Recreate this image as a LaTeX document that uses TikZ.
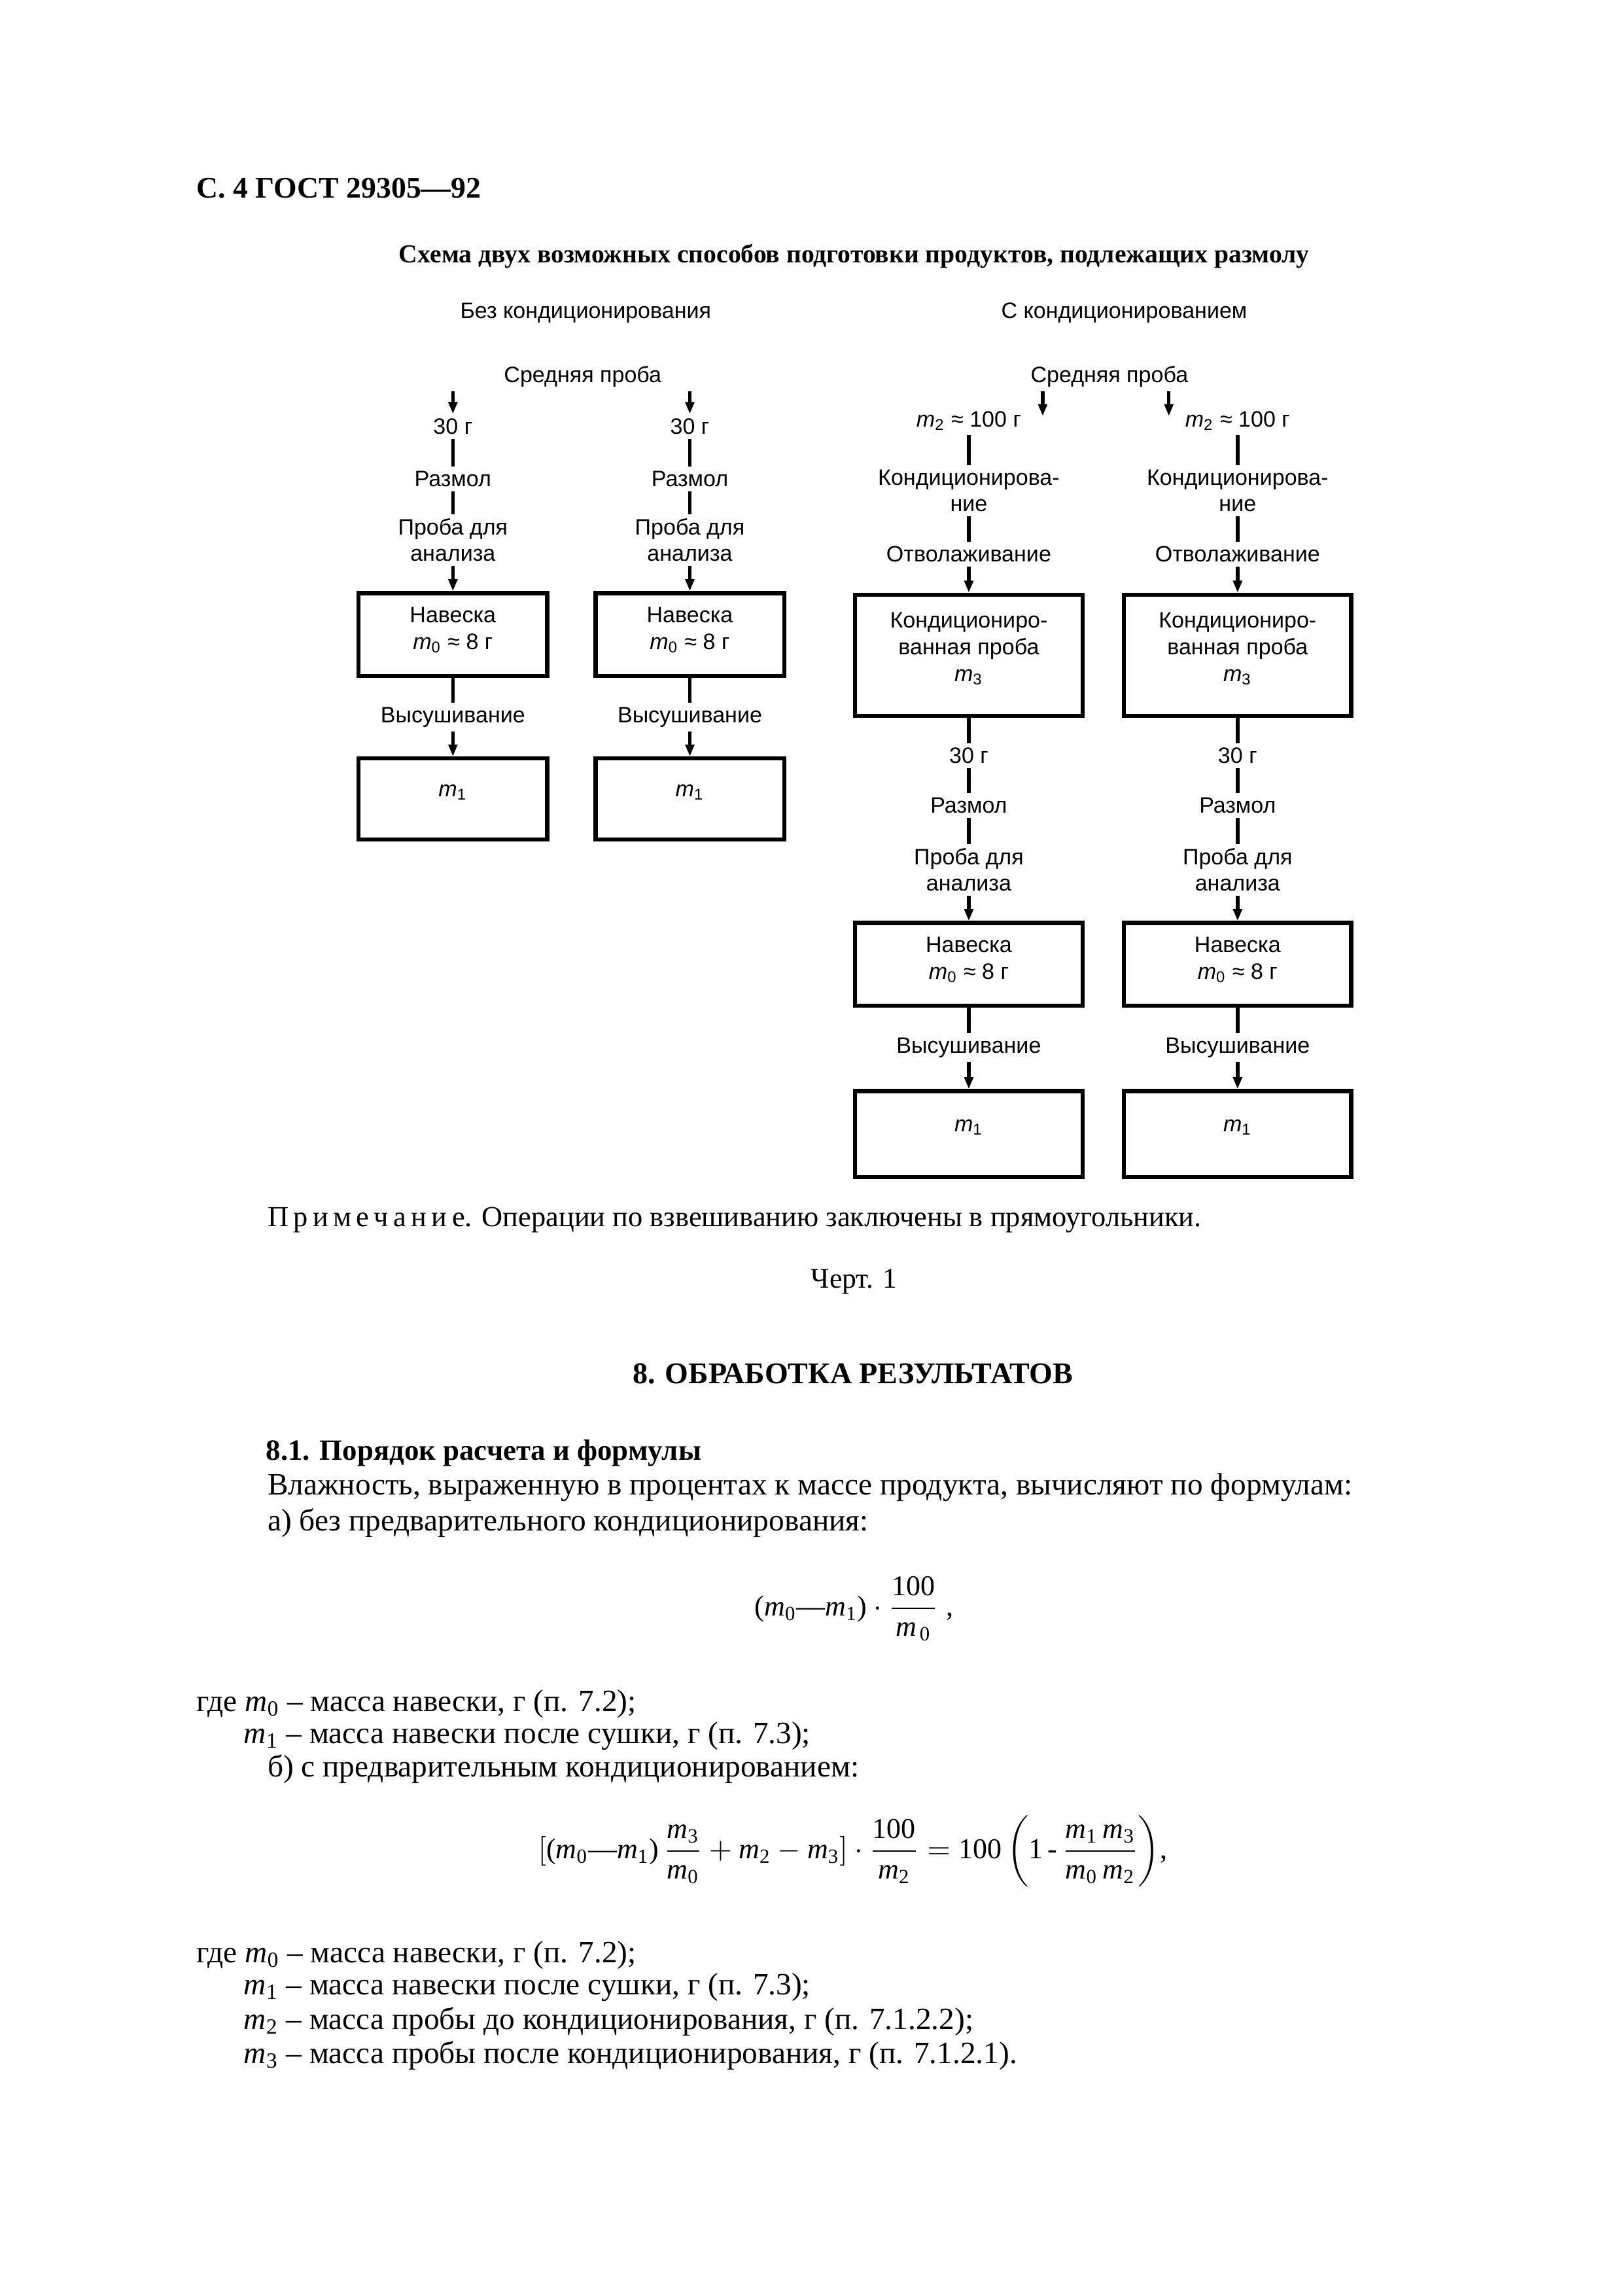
\documentclass[tikz,border=0pt]{standalone}
\usepackage{amsmath}
\usepackage{fontspec}
\setmainfont{Liberation Serif}
\setsansfont{Liberation Sans}
\usetikzlibrary{arrows.meta}
\newcommand{\mi}[1]{\textit{m}\textsubscript{#1}}
\newcommand{\mm}[1]{\text{\itshape m}_{\text{#1}}}

\begin{document}
\begin{tikzpicture}[x=0.19091mm, y=-0.19091mm,
    >={Triangle[length=4.4pt,width=3.2pt]},
    lbl/.style={font=\sffamily\fontsize{8.2}{9.6}\selectfont, align=center, inner sep=1.5pt},
    weigh/.style={lbl, draw, line width=1.5pt, font=\sffamily\fontsize{8.2}{9.8}\selectfont,
      text depth=4.5pt, minimum width=24.4mm, minimum height=10.7mm},
    weighwide/.style={weigh, minimum width=29.4mm},
    txt/.style={anchor=base west, inner sep=0pt, font=\fontsize{11.4}{13}\selectfont},
    bold/.style={inner sep=0pt, font=\bfseries\fontsize{11}{13}\selectfont}]
  \useasboundingbox (0,0) rectangle (1100,1556);

  \node[bold, anchor=base west] (h) at (133,134) {С. 4 ГОСТ 29305—92};
  \node[bold, anchor=base, font=\bfseries\fontsize{9.55}{12}\selectfont] (t) at (579,178)
    {Схема двух возможных способов подготовки продуктов, подлежащих размолу};

  % without conditioning
  \draw
    (397,212) node[lbl] (0) {Без кондиционирования}
    (395,255) node[lbl] (1) {Средняя проба}
    (307,289) node[lbl] (a1) {30 г}
    (307,324.5) node[lbl] (a2) {Размол}
    (307,366) node[lbl] (a3) {Проба для\\анализа}
    (307,430) node[weigh] (a4) {Навеска\\\mi{0} ≈ 8 г}
    (307,486) node[lbl] (a5) {Высушивание}
    (307,541.5) node[weigh, text depth=6pt, minimum height=10.5mm] (a6) {\mi{1}}
    (467.6,289) node[lbl] (b1) {30 г}
    (467.6,324.5) node[lbl] (b2) {Размол}
    (467.6,366) node[lbl] (b3) {Проба для\\анализа}
    (467.6,430) node[weigh] (b4) {Навеска\\\mi{0} ≈ 8 г}
    (467.6,486) node[lbl] (b5) {Высушивание}
    (467.6,541.5) node[weigh, text depth=6pt, minimum height=10.5mm] (b6) {\mi{1}};

  % with conditioning
  \draw
    (762,212) node[lbl] (2) {С кондиционированием}
    (752,255) node[lbl] (3) {Средняя проба}
    (656.7,285.3) node[lbl] (c1) {\mi{2} ≈ 100 г}
    (656.7,332.5) node[lbl] (c2) {Кондиционирова-\\ние}
    (656.7,375.5) node[lbl] (c3) {Отволаживание}
    (656.7,444) node[weighwide, text depth=6pt, minimum height=15.65mm] (c4) {Кондициониро-\\ванная проба\\\mi{3}}
    (656.7,512) node[lbl] (c5) {30 г}
    (656.7,546) node[lbl] (c6) {Размол}
    (656.7,589.5) node[lbl] (c7) {Проба для\\анализа}
    (656.7,653.5) node[weighwide] (c8) {Навеска\\\mi{0} ≈ 8 г}
    (656.7,710) node[lbl] (c9) {Высушивание}
    (656.7,768.5) node[weighwide, text depth=6pt, minimum height=11.1mm] (c10) {\mi{1}}
    (838.9,285.3) node[lbl] (d1) {\mi{2} ≈ 100 г}
    (838.9,332.5) node[lbl] (d2) {Кондиционирова-\\ние}
    (838.9,375.5) node[lbl] (d3) {Отволаживание}
    (838.9,444) node[weighwide, text depth=6pt, minimum height=15.65mm] (d4) {Кондициониро-\\ванная проба\\\mi{3}}
    (838.9,512) node[lbl] (d5) {30 г}
    (838.9,546) node[lbl] (d6) {Размол}
    (838.9,589.5) node[lbl] (d7) {Проба для\\анализа}
    (838.9,653.5) node[weighwide] (d8) {Навеска\\\mi{0} ≈ 8 г}
    (838.9,710) node[lbl] (d9) {Высушивание}
    (838.9,768.5) node[weighwide, text depth=6pt, minimum height=11.1mm] (d10) {\mi{1}};
  \coordinate (tc) at (706.8,282);
  \coordinate (td) at (792.3,282);

  \begin{scope}[line width=1.3pt]
    \draw[->] (1.south -| a1) to (a1);
    \draw (a1) to (a2);
    \draw (a2) to (a3);
    \draw[->] (a3) to (a4);
    \draw (a4) to (a5);
    \draw[->] (a5) to (a6);
    \draw[->] (1.south -| b1) to (b1);
    \draw (b1) to (b2);
    \draw (b2) to (b3);
    \draw[->] (b3) to (b4);
    \draw (b4) to (b5);
    \draw[->] (b5) to (b6);
    \draw[->] (3.south -| tc) to (tc);
    \draw (c1) to (c2);
    \draw (c2) to (c3);
    \draw[->] (c3) to (c4);
    \draw (c4) to (c5);
    \draw (c5) to (c6);
    \draw (c6) to (c7);
    \draw[->] (c7) to (c8);
    \draw (c8) to (c9);
    \draw[->] (c9) to (c10);
    \draw[->] (3.south -| td) to (td);
    \draw (d1) to (d2);
    \draw (d2) to (d3);
    \draw[->] (d3) to (d4);
    \draw (d4) to (d5);
    \draw (d5) to (d6);
    \draw (d6) to (d7);
    \draw[->] (d7) to (d8);
    \draw (d8) to (d9);
    \draw[->] (d9) to (d10);
  \end{scope}

  % text of the page
  \node[txt, font=\fontsize{10.7}{13}\selectfont] (n1) at (181,831)
    {П\,р\,и\,м\,е\,ч\,а\,н\,и\,е. Операции по взвешиванию заключены в прямоугольники.};
  \node[txt, anchor=base, font=\fontsize{10.5}{13}\selectfont] (n2) at (579,873) {Черт. 1};
  \node[bold, anchor=base, font=\bfseries\fontsize{11.1}{13}\selectfont] (n3) at (578,937.5)
    {8. ОБРАБОТКА РЕЗУЛЬТАТОВ};
  \node[bold, anchor=base west, font=\bfseries\fontsize{10.8}{13}\selectfont] (n4) at (180,989.5)
    {8.1. Порядок расчета и формулы};
  \node[txt] (n5) at (181,1013)
    {Влажность, выраженную в процентах к массе продукта, вычисляют по формулам:};
  \node[txt] (n6) at (181,1037.5) {а) без предварительного кондиционирования:};
  \node[txt, anchor=base, font=\fontsize{10.6}{13}\selectfont] (f1) at (579,1095)
    {$\text{(}\mm{0}\text{—}\mm{1}\text{)}\cdot\dfrac{\text{100}}{\mm{\,0}}\;\text{,}$};
  \node[txt] (n7) at (133,1160) {где \mi{0} – масса навески, г (п. 7.2);};
  \node[txt] (n8) at (165,1181.5) {\mi{1} – масса навески после сушки, г (п. 7.3);};
  \node[txt] (n9) at (181,1204) {б) с предварительным кондиционированием:};
  \node[txt, anchor=base, font=\fontsize{10.6}{13}\selectfont] (f2) at (578,1259.5)
    {$[\text{(}\mm{0}\text{—}\mm{1}\text{)}\,\dfrac{\mm{3}}{\mm{0}}+\mm{2}-\mm{3}]\cdot
      \dfrac{\text{100}}{\mm{2}}=\text{100}\left(\text{1\,-\,}\dfrac{\mm{1}\,\mm{3}}{\mm{0}\,\mm{2}}\right)\!\text{,}$};
  \node[txt] (n10) at (133,1330) {где \mi{0} – масса навески, г (п. 7.2);};
  \node[txt] (n11) at (165,1352) {\mi{1} – масса навески после сушки, г (п. 7.3);};
  \node[txt] (n12) at (165,1375.5) {\mi{2} – масса пробы до кондиционирования, г (п. 7.1.2.2);};
  \node[txt] (n13) at (165,1398.5) {\mi{3} – масса пробы после кондиционирования, г (п. 7.1.2.1).};
\end{tikzpicture}
\end{document}
